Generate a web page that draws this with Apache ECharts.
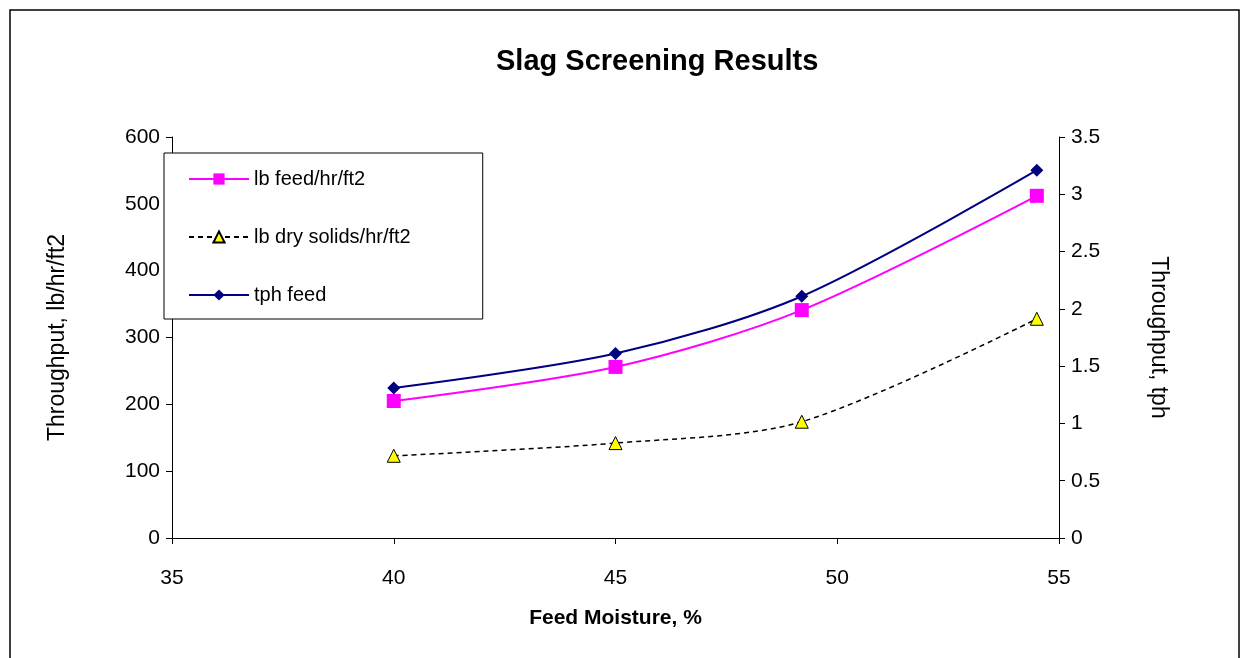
<!DOCTYPE html>
<html><head><meta charset="utf-8">
<script src="https://cdn.jsdelivr.net/npm/echarts@6/dist/echarts.min.js"></script>
<style>html,body{margin:0;background:#fff}#c{width:1249px;height:658px}</style>
</head><body><div id="c"></div>
<script>
var moisture = [40, 45, 49.2, 54.5];
var lbFeed = [205, 256, 341, 512];
var lbDry = [123, 142, 174, 328];
var tphFeed = [1.31, 1.61, 2.11, 3.21];
function pts(v) { return moisture.map(function (m, i) { return [m, v[i]]; }); }
var font = 'Arial, Liberation Sans, sans-serif';
var chart = echarts.init(document.getElementById('c'));
chart.setOption({
    animation: false,
    textStyle: { fontFamily: font, color: '#000' },
    title: { text: 'Slag Screening Results', left: 491, top: 42, textStyle: { fontSize: 29, fontWeight: 'bold', color: '#000', fontFamily: font } },
    graphic: [{ type: 'rect', shape: { x: 10, y: 10, width: 1229, height: 660 }, style: { fill: 'none', stroke: '#000', lineWidth: 1.5 } }],
    grid: { left: 172, right: 190, top: 137, bottom: 120 },
    legend: {
        orient: 'vertical', left: 164, top: 153, padding: [16, 72, 14, 24], itemGap: 38,
        borderColor: '#000', borderWidth: 1, backgroundColor: '#fff',
        itemWidth: 60, itemHeight: 14,
        textStyle: { fontSize: 20, fontFamily: font, color: '#000' },
        data: ['lb feed/hr/ft2', 'lb dry solids/hr/ft2', 'tph feed']
    },
    xAxis: {
        type: 'value', min: 35, max: 55, interval: 5,
        name: 'Feed Moisture, %', nameLocation: 'middle', nameGap: 70,
        nameTextStyle: { fontSize: 21, fontWeight: 'bold', fontFamily: font },
        axisLine: { lineStyle: { color: '#000' } }, axisTick: { length: 6, lineStyle: { color: '#000' } },
        axisLabel: { fontSize: 21, color: '#000', margin: 30 }, splitLine: { show: false }
    },
    yAxis: [{
        type: 'value', min: 0, max: 600, interval: 100,
        name: 'Throughput, lb/hr/ft2', nameLocation: 'middle', nameGap: 103,
        nameTextStyle: { fontSize: 23, fontFamily: font },
        axisLine: { show: true, lineStyle: { color: '#000' } }, axisTick: { show: true, length: 6, lineStyle: { color: '#000' } },
        axisLabel: { fontSize: 21, color: '#000', margin: 12 }, splitLine: { show: false }
    }, {
        type: 'value', min: 0, max: 3.5, interval: 0.5, position: 'right',
        name: 'Throughput, tph', nameLocation: 'middle', nameGap: 88, nameRotate: -90,
        nameTextStyle: { fontSize: 23, fontFamily: font },
        axisLine: { show: true, lineStyle: { color: '#000' } }, axisTick: { show: true, length: 6, lineStyle: { color: '#000' } },
        axisLabel: { fontSize: 21, color: '#000', margin: 12 }, splitLine: { show: false }
    }],
    series: [{
        name: 'lb feed/hr/ft2', type: 'line', smooth: 0.3, data: pts(lbFeed),
        symbol: 'rect', symbolSize: 14, itemStyle: { color: '#ff00ff' }, lineStyle: { color: '#ff00ff', width: 2 }
    }, {
        name: 'lb dry solids/hr/ft2', type: 'line', smooth: 0.3, data: pts(lbDry),
        symbol: 'triangle', symbolSize: 13, itemStyle: { color: '#ffff00', borderColor: '#000', borderWidth: 1 },
        lineStyle: { color: '#000', width: 1.5, type: [5, 4] }
    }, {
        name: 'tph feed', type: 'line', smooth: 0.3, yAxisIndex: 1, data: pts(tphFeed),
        symbol: 'diamond', symbolSize: 13, itemStyle: { color: '#000080' }, lineStyle: { color: '#000080', width: 2 }
    }]
});
</script></body></html>
